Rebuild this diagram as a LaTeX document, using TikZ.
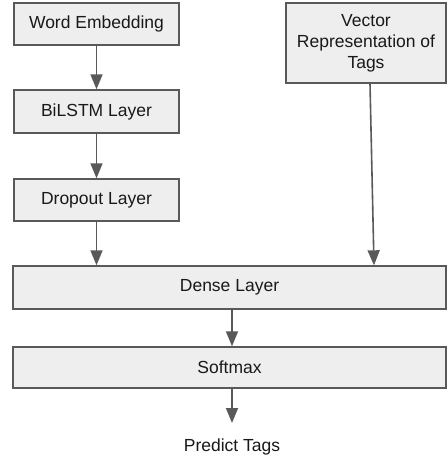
\documentclass[tikz,border=0pt]{standalone}
\usepackage{fontspec}
\setmainfont{Liberation Sans}
\usetikzlibrary{arrows.meta,calc}
\definecolor{boxfill}{HTML}{EEEEEE}
\definecolor{boxline}{HTML}{595959}
\begin{document}
\begin{tikzpicture}[x=1pt,y=-1pt,
  every node/.style={font=\fontsize{17.5}{21}\selectfont, text=black!90},
  layerbox/.style={draw=boxline, fill=boxfill, line width=1.4pt, inner sep=0pt},
  conn/.style={draw=boxline, line width=1.6pt, -{Triangle[length=15pt,width=12pt]}}]
\useasboundingbox (0,0) rectangle (447,460);
\node[layerbox, minimum width=165pt, minimum height=42pt] (we) at (96.5,24) {Word Embedding};
\node[layerbox, minimum width=165pt, minimum height=43pt] (bi) at (96.5,111.5) {BiLSTM Layer};
\node[layerbox, minimum width=165pt, minimum height=42pt] (dr) at (96.5,200) {Dropout Layer};
\node[layerbox, minimum width=160pt, minimum height=80pt, align=center] (vec) at (366,43) {Vector\\Representation of\\Tags};
\node[layerbox, minimum width=433pt, minimum height=43pt] (de) at (229.5,287.5) {Dense Layer};
\node[layerbox, minimum width=433pt, minimum height=41pt] (sm) at (229.5,367.5) {Softmax};
\node (pt) at (232,447) {Predict Tags};
\coordinate (ptop) at (232,423);
\draw[conn] (we.south) -- (bi.north);
\draw[conn] (bi.south) -- (dr.north);
\draw[conn] (dr.south) -- (dr.south |- de.north);
\draw[conn] ([xshift=4pt]vec.south) -- (374,0 |- de.north);
\draw[conn] (de.south -| ptop) -- (sm.north -| ptop);
\draw[conn] (sm.south -| ptop) -- (ptop);
\end{tikzpicture}
\end{document}
